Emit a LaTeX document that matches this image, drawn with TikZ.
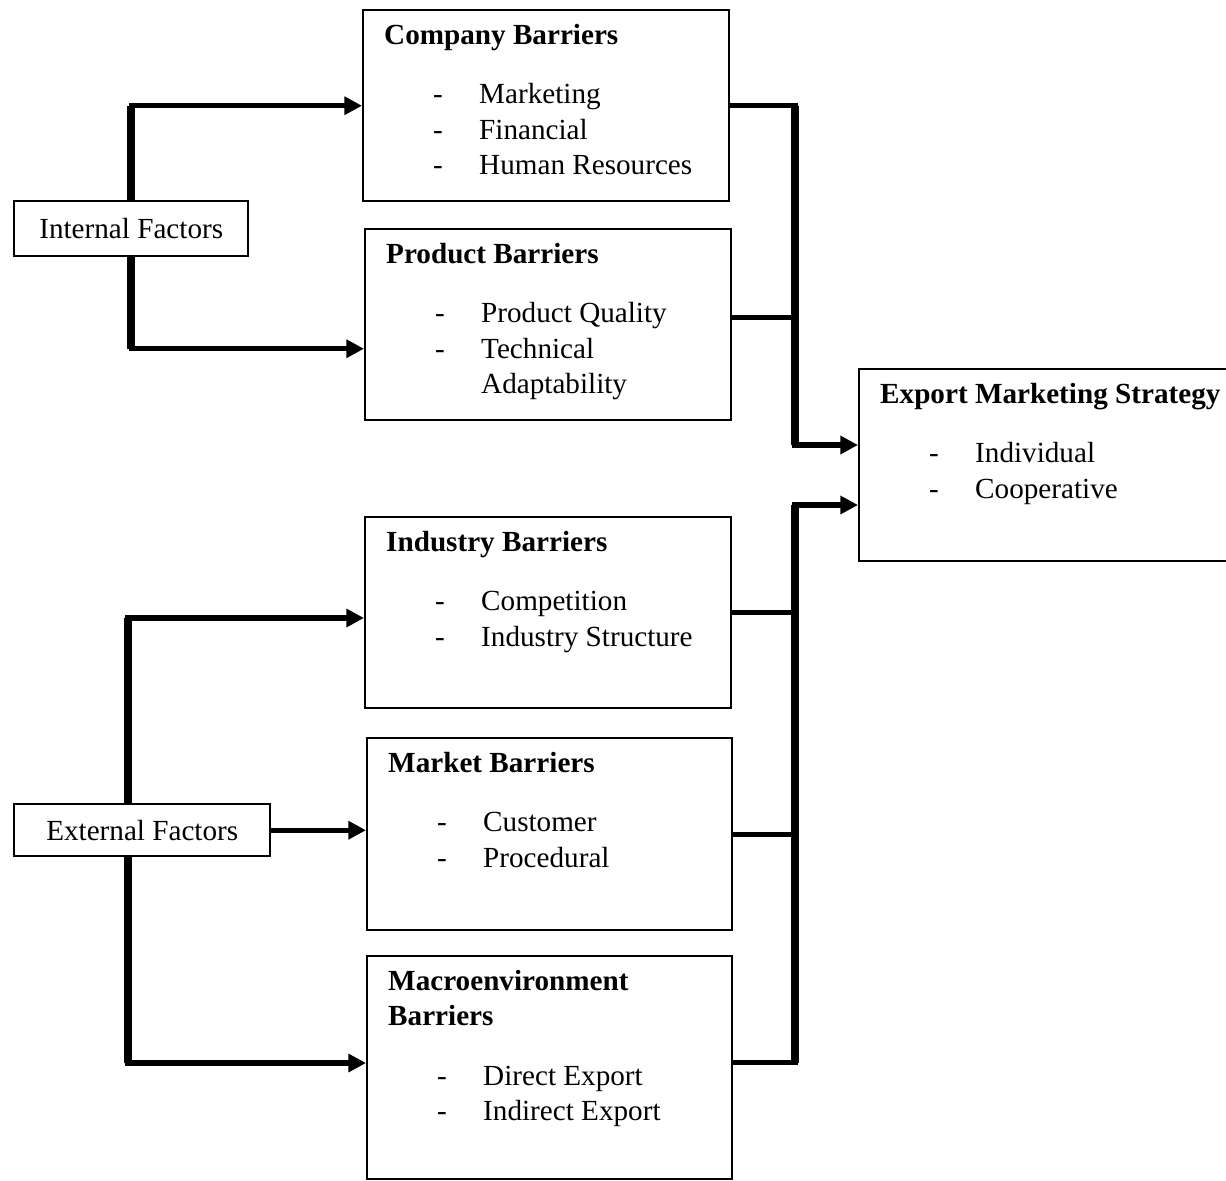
\documentclass[tikz,border=0pt]{standalone}
\usepackage{fontspec}
\setmainfont{Liberation Serif}
\usetikzlibrary{arrows.meta,calc}

\newlength{\px}
\setlength{\px}{0.02cm}
\newcommand{\panel}[3]{\parbox[c][#2\px][t]{#1\px}{\vspace*{9\px}#3}}
\newcommand{\heading}[1]{\hspace*{21\px}\strut\textbf{#1}}
\newcommand{\entry}[1]{\hspace*{70\px}\makebox[46\px][l]{-}#1}
\newcommand{\cont}[1]{\hspace*{116\px}#1}

\begin{document}
\begin{tikzpicture}[
    x=0.02cm, y=-0.02cm,
    font=\fontsize{16.6}{20.4}\selectfont,
    box/.style={draw, line width=1.4pt, inner sep=0pt, anchor=north west},
    link/.style={line width=3.1pt, line cap=rect},
    trunk/.style={line width=4.5pt},
    arrow/.style={link, -{Triangle[length=10pt, width=10pt]}}
]
\useasboundingbox (0,0) rectangle (1226,1180);

% Factors
\node[box, minimum width=234\px, minimum height=55\px] (int) at (13,200) {Internal Factors};
\node[box, minimum width=256\px, minimum height=52\px] (ext) at (13,803) {External Factors};

% Barriers
\node[box] (comp) at (362,9) {\panel{366}{191}{%
    \heading{Company Barriers}\\[23\px]
    \entry{Marketing}\\
    \entry{Financial}\\
    \entry{Human Resources}}};
\node[box] (prod) at (364,228) {\panel{366}{191}{%
    \heading{Product Barriers}\\[23\px]
    \entry{Product Quality}\\
    \entry{Technical}\\
    \cont{Adaptability}}};
\node[box] (ind) at (364,516) {\panel{366}{191}{%
    \heading{Industry Barriers}\\[23\px]
    \entry{Competition}\\
    \entry{Industry Structure}}};
\node[box] (mkt) at (366,737) {\panel{365}{192}{%
    \heading{Market Barriers}\\[23\px]
    \entry{Customer}\\
    \entry{Procedural}}};
\node[box] (macro) at (366,955) {\panel{365}{223}{%
    \heading{Macroenvironment}\\[-1\px]
    \heading{Barriers}\\[24\px]
    \entry{Direct Export}\\
    \entry{Indirect Export}}};

% Strategy
\node[box] (exp) at (858,368) {\panel{370}{192}{%
    \heading{Export Marketing Strategy}\\[23\px]
    \entry{Individual}\\
    \entry{Cooperative}}};

% Junctions
\coordinate (prodIn) at ($(prod.west)+(0,24)$);
\coordinate (eUp) at (128,618);
\coordinate (eDown) at (128,1063);
\coordinate (jTop) at (795,445);
\coordinate (jBot) at (795,505);

% Internal factors to barriers
\draw[trunk] (int.north) -- (int.north |- comp.west);
\draw[arrow] (int.north |- comp.west) -- (comp.west);
\draw[trunk] (int.south) -- (int.south |- prodIn);
\draw[arrow] (int.south |- prodIn) -- (prodIn);

% External factors to barriers
\draw[trunk] (eUp |- ext.north) -- (eUp);
\draw[arrow] (eUp) -- (eUp -| ind.west);
\draw[arrow] (ext.east) -- (ext.east -| mkt.west);
\draw[trunk] (eDown |- ext.south) -- (eDown);
\draw[arrow] (eDown) -- (eDown -| macro.west);

% Barriers to strategy
\draw[trunk] (comp.east -| jTop) -- (jTop);
\draw[link] (comp.east) -- (comp.east -| jTop);
\draw[link] ($(prod.east)+(0,-7)$) -- ($(prod.east -| jTop)+(0,-7)$);
\draw[arrow] (jTop) -- (jTop -| exp.west);
\draw[trunk] ($(macro.east -| jBot)+(0,-5)$) -- (jBot);
\draw[link] (ind.east) -- (ind.east -| jBot);
\draw[link] (mkt.east) -- (mkt.east -| jBot);
\draw[link] ($(macro.east)+(0,-5)$) -- ($(macro.east -| jBot)+(0,-5)$);
\draw[arrow] (jBot) -- (jBot -| exp.west);
\end{tikzpicture}
\end{document}
